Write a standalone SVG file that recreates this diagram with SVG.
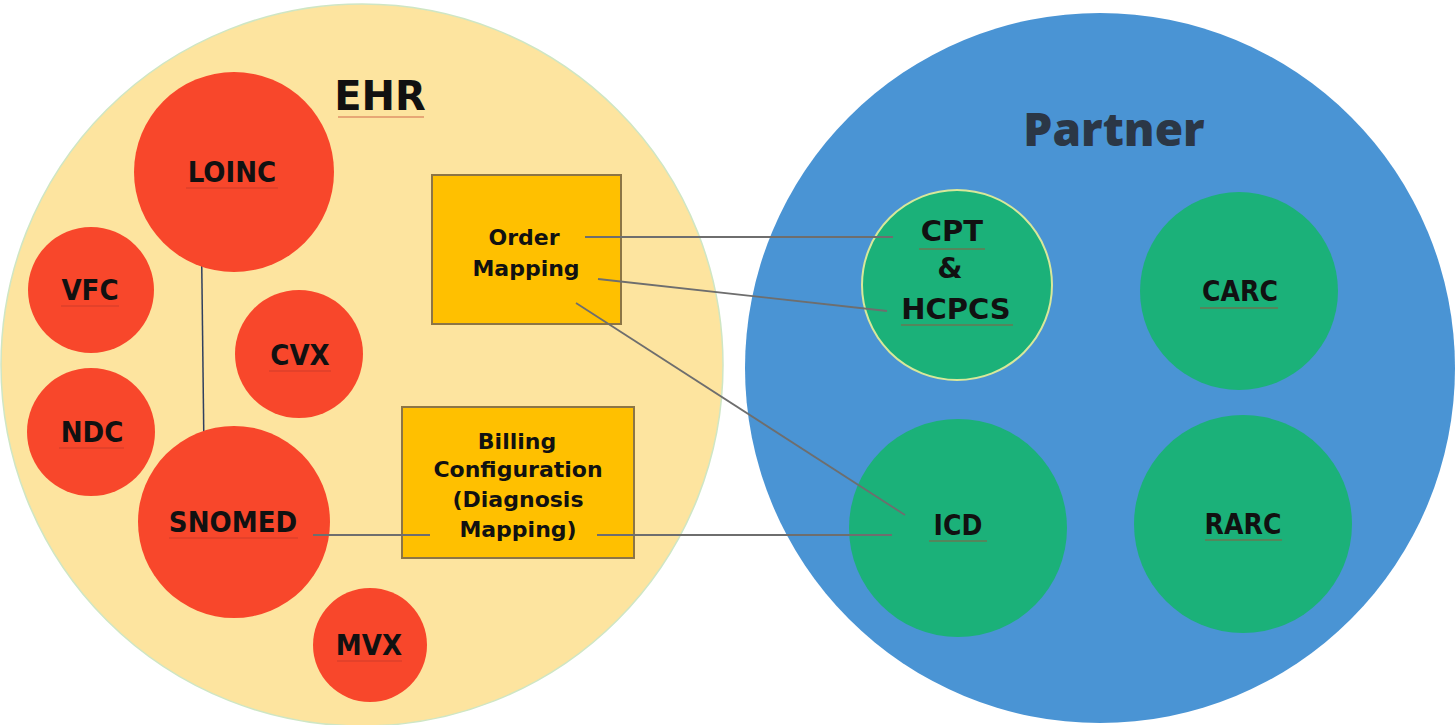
<svg xmlns="http://www.w3.org/2000/svg" width="1456" height="725" viewBox="0 0 1456 725">
<style>
.bg{fill:#fff}
.red{fill:#f8472b}
.green{fill:#1bb179}
.box{fill:#ffc000;stroke:#8c7545;stroke-width:2}
.lbl{font-family:"DejaVu Sans",Verdana,sans-serif;font-weight:bold;fill:#111;text-anchor:middle;dominant-baseline:central}
.cn{font-family:"DejaVu Sans Condensed","DejaVu Sans",sans-serif;font-stretch:condensed}
.r{font-size:29px}
.b{font-size:22px}
.g{font-size:28px}
.sq{stroke:#c0392b;stroke-width:1.2;opacity:0.7}
.conn line{stroke:#6e6e6e;stroke-width:1.8}
</style>
<rect class="bg" width="1456" height="725"/>
<g id="ehr">
<circle cx="362" cy="365" r="361" fill="#fde49f" stroke="#cfe6c4" stroke-width="1.5"/>
<text class="lbl" x="380" y="96" style="font-size:40px">EHR</text>
<line class="sq" x1="338" y1="117" x2="424" y2="117"/>
</g>
<g id="partner">
<circle cx="1100" cy="368" r="355" fill="#4a94d4"/>
<text class="lbl" x="1114" y="128" style="font-size:46px;fill:#2b3746;font-family:'Open Sans',sans-serif;font-weight:800">Partner</text>
</g>
<g class="conn">
<line x1="201" y1="203" x2="204" y2="452" style="stroke:#2f3f5f;stroke-width:1.5"/>
</g>
<g id="loinc"><circle class="red" cx="234" cy="172" r="100"/><text class="lbl cn r" x="232" y="172">LOINC</text><line class="sq" x1="186" y1="188" x2="278" y2="188"/></g>
<g id="vfc"><circle class="red" cx="91" cy="290" r="63"/><text class="lbl cn r" x="90" y="290">VFC</text><line class="sq" x1="61" y1="306" x2="119" y2="306"/></g>
<g id="cvx"><circle class="red" cx="299" cy="354" r="64"/><text class="lbl cn r" x="300" y="355">CVX</text><line class="sq" x1="269" y1="371" x2="331" y2="371"/></g>
<g id="ndc"><circle class="red" cx="91" cy="432" r="64"/><text class="lbl cn r" x="92" y="432">NDC</text><line class="sq" x1="59" y1="448" x2="124" y2="448"/></g>
<g id="snomed"><circle class="red" cx="234" cy="522" r="96"/><text class="lbl cn r" x="233" y="522">SNOMED</text><line class="sq" x1="169" y1="538" x2="298" y2="538"/></g>
<g id="mvx"><circle class="red" cx="370" cy="645" r="57"/><text class="lbl cn r" x="369" y="645">MVX</text><line class="sq" x1="337" y1="661" x2="402" y2="661"/></g>
<g id="order-mapping">
<rect class="box" x="432" y="175" width="189" height="149"/>
<text class="lbl b" x="524" y="237">Order</text>
<text class="lbl b" x="526" y="268">Mapping</text>
</g>
<g id="billing">
<rect class="box" x="402" y="407" width="232" height="151"/>
<text class="lbl b" x="517" y="441">Billing</text>
<text class="lbl b" x="518" y="469">Configuration</text>
<text class="lbl b" x="518" y="499">(Diagnosis</text>
<text class="lbl b" x="518" y="529">Mapping)</text>
</g>
<g id="cpt"><circle class="green" cx="957" cy="285" r="95" stroke="#d8e89a" stroke-width="2"/>
<text class="lbl" x="952" y="231" style="font-size:29px">CPT</text><line class="sq" x1="919" y1="249" x2="985" y2="249"/>
<text class="lbl" x="950" y="268" style="font-size:29px">&amp;</text>
<text class="lbl" x="956" y="309" style="font-size:29px">HCPCS</text><line class="sq" x1="901" y1="325" x2="1013" y2="325"/>
</g>
<g id="carc"><circle class="green" cx="1239" cy="291" r="99"/><text class="lbl cn g" x="1240" y="291">CARC</text><line class="sq" x1="1200" y1="308" x2="1278" y2="308"/></g>
<g id="icd"><circle class="green" cx="958" cy="528" r="109"/><text class="lbl cn g" x="958" y="525">ICD</text><line class="sq" x1="929" y1="541" x2="987" y2="541"/></g>
<g id="rarc"><circle class="green" cx="1243" cy="524" r="109"/><text class="lbl cn g" x="1243" y="524">RARC</text><line class="sq" x1="1205" y1="540" x2="1282" y2="540"/></g>
<g id="connectors" class="conn">
<line x1="585" y1="237" x2="893" y2="237"/>
<line x1="598" y1="279" x2="887" y2="311"/>
<line x1="576" y1="303" x2="905" y2="515"/>
<line x1="313" y1="535" x2="430" y2="535"/>
<line x1="597" y1="535" x2="892" y2="535"/>
</g>
</svg>
